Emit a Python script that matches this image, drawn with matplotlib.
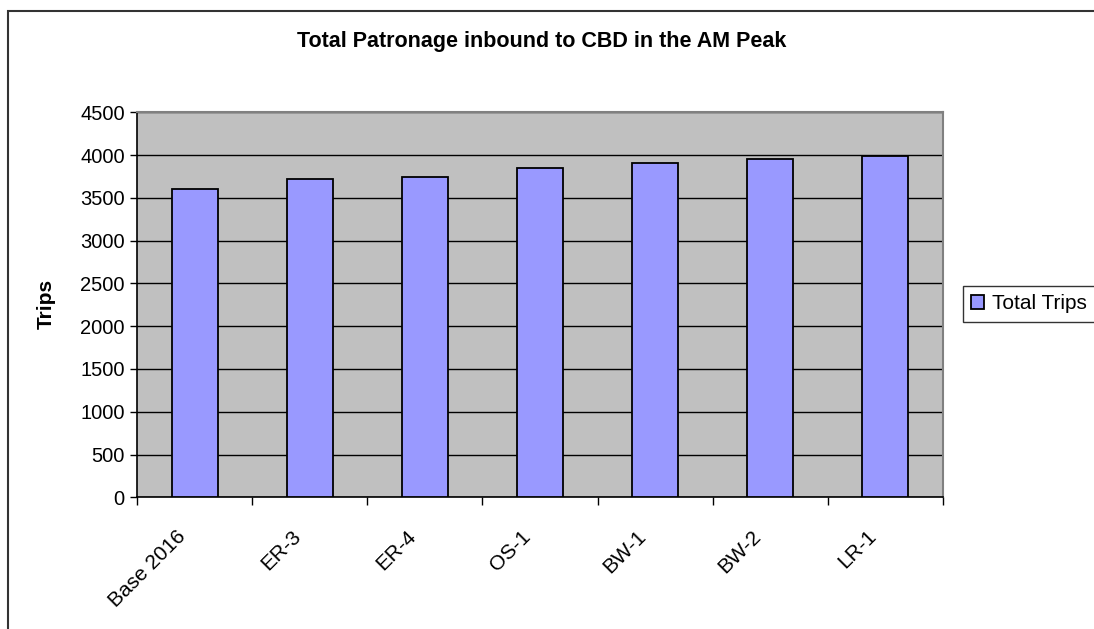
import matplotlib
matplotlib.use("Agg")
import matplotlib.pyplot as plt
from matplotlib.patches import Rectangle
from matplotlib.transforms import ScaledTranslation
import numpy as np

categories = ["Base 2016", "ER-3", "ER-4", "OS-1", "BW-1", "BW-2", "LR-1"]
total_trips = [3600, 3722, 3742, 3845, 3912, 3950, 3988]
y_ticks = [0, 500, 1000, 1500, 2000, 2500, 3000, 3500, 4000, 4500]

plt.rcParams['font.family'] = ['Liberation Sans', 'DejaVu Sans']

W, H = 1094, 629
fig = plt.figure(figsize=(W / 100, H / 100), dpi=100)
fig.patch.set_facecolor('white')

# outer chart border
fig.add_artist(Rectangle((8 / W, -0.05), 1.2, 1 - 11 / H + 0.05, transform=fig.transFigure,
                         fill=False, edgecolor='#333333', linewidth=1.5))

ax = fig.add_axes([137.3 / W, 1 - 497.3 / H, 805.4 / W, 385 / H])
ax.set_facecolor('#C0C0C0')
x = np.arange(len(categories))
ax.bar(x, total_trips, width=0.4, color='#9999FF', edgecolor='black', linewidth=1.3,
       zorder=3, label='Total Trips')
ax.set_xlim(-0.5, len(categories) - 0.5)
ax.set_ylim(0, 4500)
ax.set_yticks(y_ticks)
ax.set_yticklabels([str(v) for v in y_ticks], fontsize=14.5)
ax.yaxis.grid(True, color='black', linewidth=1.0, zorder=1)
ax.set_axisbelow(True)
ax.tick_params(axis='y', direction='out', length=5, width=1, pad=4)

ax.set_xticks(x)
ax.set_xticklabels(categories, fontsize=15, rotation=45, ha='right', va='center',
                   rotation_mode='anchor')
ax.tick_params(axis='x', which='major', length=0, pad=26)
shift = ScaledTranslation(-0.12, 0, fig.dpi_scale_trans)
for lab in ax.get_xticklabels():
    lab.set_transform(lab.get_transform() + shift)
ax.set_xticks(np.arange(-0.5, len(categories)), minor=True)
ax.tick_params(axis='x', which='minor', direction='out', length=6, width=1)

for s in ['top', 'right']:
    ax.spines[s].set_color('#808080')
    ax.spines[s].set_linewidth(1.5)
for s in ['left', 'bottom']:
    ax.spines[s].set_color('black')
    ax.spines[s].set_linewidth(1.2)

fig.text(46 / W, 1 - 304 / H, 'Trips', rotation=90, ha='center', va='center',
         fontsize=15, fontweight='bold')
fig.text(542 / W, 1 - 47 / H, 'Total Patronage inbound to CBD in the AM Peak',
         ha='center', va='baseline', fontsize=15.5, fontweight='bold')

leg = fig.legend(loc='upper left', bbox_to_anchor=(963 / W, 1 - 286 / H), fontsize=15,
                 frameon=True, fancybox=False, edgecolor='black', handlelength=0.6,
                 handleheight=0.6, handletextpad=0.4, borderpad=0.4, borderaxespad=0)
leg.get_frame().set_linewidth(1.0)

fig.savefig('out.png', dpi=100)
